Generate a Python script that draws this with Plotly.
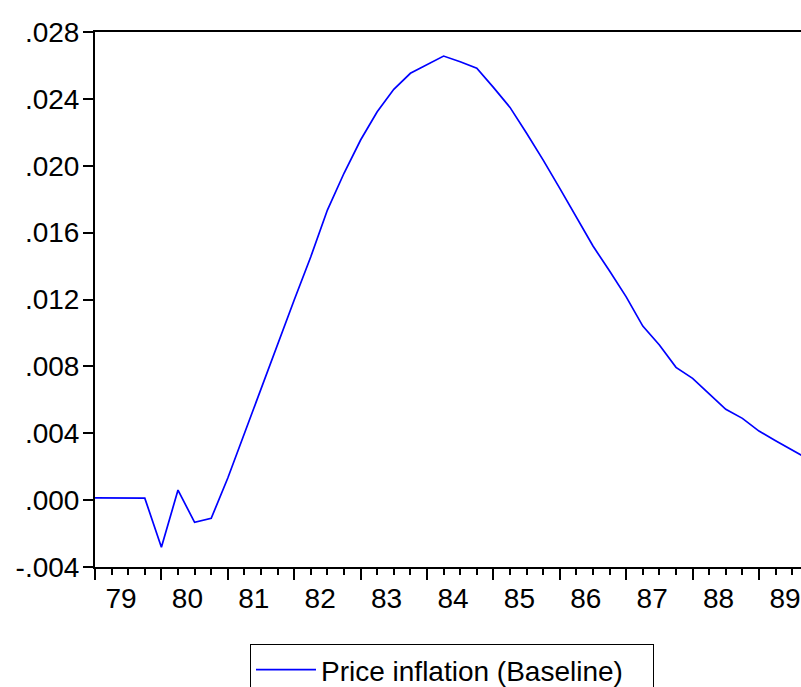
import plotly.graph_objects as go

# Quarterly observations, 1979Q1 onwards
start_year = 1979
inflation = [
    0.00014, 0.00013, 0.00012, 0.00012,   # 1979
    -0.00282, 0.00060, -0.00133, -0.00109,  # 1980
    0.00132, 0.00400, 0.00664, 0.00932,   # 1981
    0.01197, 0.01456, 0.01735, 0.01955,   # 1982
    0.02154, 0.02323, 0.02457, 0.02553,   # 1983
    0.02606, 0.02656, 0.02622, 0.02583,   # 1984
    0.02469, 0.02349, 0.02194, 0.02034,   # 1985
    0.01865, 0.01695, 0.01520, 0.01370,   # 1986
    0.01216, 0.01041, 0.00928, 0.00794,   # 1987
    0.00728, 0.00635, 0.00543, 0.00489,   # 1988
    0.00413, 0.00355, 0.00300, 0.00243,   # 1989
]
series_name = "Price inflation (Baseline)"

year_labels = ["79", "80", "81", "82", "83", "84", "85", "86", "87", "88", "89"]
y_tick_vals = [-0.004, 0.000, 0.004, 0.008, 0.012, 0.016, 0.020, 0.024, 0.028]
y_tick_text = ["-.004", ".000", ".004", ".008", ".012", ".016", ".020", ".024", ".028"]

obs_index = list(range(len(inflation)))
period_names = [f"{start_year + i // 4}Q{i % 4 + 1}" for i in obs_index]
year_starts = [4 * k for k in range(len(year_labels))]
quarter_ticks = [i for i in range(0, 4 * len(year_labels) + 4) if i % 4 != 0]

FONT = "Liberation Sans, Arial, sans-serif"
FS = 28

fig = go.Figure()
fig.add_trace(go.Scatter(
    x=obs_index, y=inflation, mode="lines", name=series_name,
    line=dict(color="#0000FF", width=1.7),
    customdata=period_names,
    hovertemplate="%{customdata}: %{y:.4f}<extra></extra>",
    showlegend=True,
))

fig.update_layout(
    width=801, height=687,
    margin=dict(l=95, r=0, t=32, b=120, autoexpand=False),
    paper_bgcolor="white", plot_bgcolor="white",
    font=dict(family=FONT, size=FS, color="black"),
    showlegend=True,
    legend=dict(
        orientation="h", entrywidth=327,
        x=(250 - 95) / 706, y=(567 - 644) / 535,
        xanchor="left", yanchor="top",
        bgcolor="white", bordercolor="black", borderwidth=1,
        font=dict(family=FONT, size=FS, color="black"),
        itemwidth=60,
    ),
)

fig.update_xaxes(
    range=[0, 706 / 16.6],
    automargin=False,
    tickmode="array", tickvals=year_starts, ticktext=year_labels,
    ticks="outside", ticklen=11, tickwidth=1.5, tickcolor="black",
    ticklabelshift=26, ticklabelstandoff=-6,
    minor=dict(tickmode="array", tickvals=quarter_ticks, ticks="outside",
               ticklen=6, tickwidth=1.5, tickcolor="black", showgrid=False),
    showline=True, linecolor="black", linewidth=2, mirror=True,
    showgrid=False, zeroline=False,
    tickfont=dict(family=FONT, size=FS, color="black"),
)
fig.update_yaxes(
    range=[-0.004, 0.028],
    automargin=False,
    tickmode="array", tickvals=y_tick_vals, ticktext=y_tick_text,
    ticks="outside", ticklen=10, tickwidth=1.5, tickcolor="black",
    ticklabelstandoff=-2,
    showline=True, linecolor="black", linewidth=2, mirror=False,
    showgrid=False, zeroline=False,
    tickfont=dict(family=FONT, size=FS, color="black"),
)

# remove the default page margins so the 801x687 figure fills the window exactly
page_css = (
    "var h=document.documentElement,b=document.body;"
    "h.style.margin='0';h.style.padding='0';h.style.overflow='hidden';"
    "b.style.margin='0';b.style.padding='0';b.style.overflow='hidden';"
    "h.style.height='687px';b.style.height='687px';"
)
fig.write_html(
    "out.html",
    config={"displayModeBar": False},
    post_script=page_css,
)
